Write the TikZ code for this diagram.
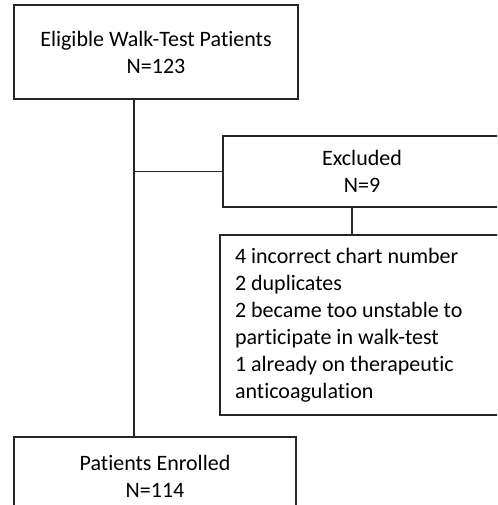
\documentclass[tikz,border=0pt]{standalone}
\usepackage{fontspec}
\setmainfont{Carlito}[Ligatures=NoCommon]
\usetikzlibrary{calc}
\usetikzlibrary{positioning}

\tikzset{
    flowbox/.style={draw=black!85, line width=1.4pt, align=center, inner sep=0pt,
        font=\fontsize{22}{27}\selectfont},
    flowline/.style={draw=black!85, line width=1.4pt}
}

\begin{document}
\begin{tikzpicture}[x=1pt, y=-1pt]
        % Page frame (the boxes on the right and bottom run off it)
        \useasboundingbox (0,0) rectangle (497,505);
        \clip (0,0) rectangle (497,505);

        % Boxes
        \node[flowbox, minimum width=284pt, minimum height=94pt] (eligible) at (156,52)
            {Eligible Walk-Test Patients\\N=123};
        \node[flowbox, minimum width=278pt, minimum height=71pt] (excluded) at (362,171.5)
            {Excluded\\N=9};
        \node[flowbox, align=flush left, text width=255pt, inner xsep=15pt, minimum height=180pt] (reasons) at (362.5,325)
            {4 incorrect chart number\\
             2 duplicates\\
             2 became too unstable to\\
             participate in walk-test\\
             1 already on therapeutic\\
             anticoagulation};
        \node[flowbox, minimum width=282pt, minimum height=78pt] (enrolled) at (155,476)
            {Patients Enrolled\\N=114};

        % Connectors
        \coordinate (split) at (134,171.5);
        \draw[flowline] (split |- eligible.south) -- (split |- enrolled.north);
        \draw[flowline] (split) -- (excluded.west);
        \draw[flowline] ([xshift=-10pt]excluded.south) -- ([xshift=-10pt]excluded.south |- reasons.north);
    \end{tikzpicture}
\end{document}
